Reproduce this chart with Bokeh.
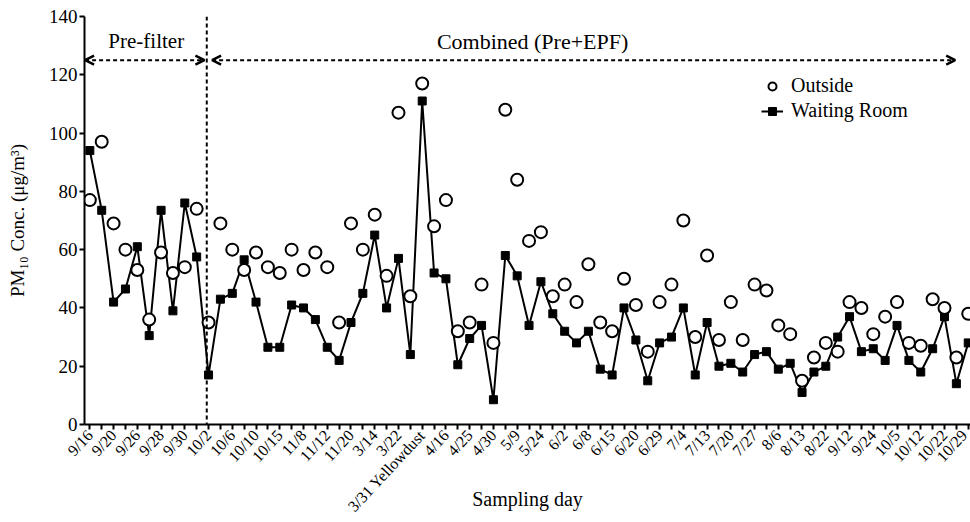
from bokeh.plotting import figure
from bokeh.models import (Range1d, FixedTicker, Span, Arrow, OpenHead, Label,
                          Legend, LegendItem, ColumnDataSource)
from bokeh.embed import file_html
from bokeh.resources import INLINE

tick_labels = ["9/16", "9/20", "9/26", "9/28", "9/30", "10/2", "10/6", "10/10", "10/15",
               "11/8", "11/12", "11/20", "3/14", "3/22", "3/31 Yellowdust", "4/16", "4/25",
               "4/30", "5/9", "5/24", "6/2", "6/8", "6/15", "6/20", "6/29", "7/4", "7/13",
               "7/20", "7/27", "8/6", "8/13", "8/22", "9/12", "9/24", "10/5", "10/12",
               "10/22", "10/29"]

waiting_room = [94, 73.5, 42, 46.5, 61, 30.5, 73.5, 39, 76, 57.5,
                17, 43, 45, 56.5, 42, 26.5, 26.5, 41, 40, 36,
                26.5, 22, 35, 45, 65, 40, 57, 24, 111, 52,
                50, 20.5, 29.5, 34, 8.5, 58, 51, 34, 49, 38,
                32, 28, 32, 19, 17, 40, 29, 15, 28, 30,
                40, 17, 35, 20, 21, 18, 24, 25, 19, 21,
                11, 18, 20, 30, 37, 25, 26, 22, 34, 22,
                18, 26, 37, 14, 28]

outside = [77, 97, 69, 60, 53, 36, 59, 52, 54, 74,
           35, 69, 60, 53, 59, 54, 52, 60, 53, 59,
           54, 35, 69, 60, 72, 51, 107, 44, 117, 68,
           77, 32, 35, 48, 28, 108, 84, 63, 66, 44,
           48, 42, 55, 35, 32, 50, 41, 25, 42, 48,
           70, 30, 58, 29, 42, 29, 48, 46, 34, 31,
           15, 23, 28, 25, 42, 40, 31, 37, 42, 28,
           27, 43, 40, 23, 38]

y_ticks = [0, 20, 40, 60, 80, 100, 120, 140]
filter_change = 9.85   # boundary between pre-filter and combined periods
arrow_level = 125

FONT = "Liberation Serif"

idx = list(range(len(waiting_room)))
src = ColumnDataSource(dict(x=idx, wr=waiting_room, out=outside))

p = figure(width=970, height=522, output_backend="svg", toolbar_location=None,
           x_range=Range1d(-0.45, 74.19), y_range=Range1d(0, 140),
           min_border_left=84, min_border_right=0, min_border_top=16,
           min_border_bottom=98)
p.outline_line_color = None
p.grid.visible = False
p.background_fill_color = "white"

# axes
p.xaxis.ticker = FixedTicker(ticks=list(range(0, len(idx), 2)),
                             minor_ticks=list(range(1, len(idx), 2)))
p.xaxis.major_label_overrides = {i * 2: lab for i, lab in enumerate(tick_labels)}
p.xaxis.major_label_orientation = 0.82
p.xaxis.major_label_text_font = FONT
p.xaxis.major_label_text_font_size = "16px"
p.xaxis.major_label_standoff = 3
p.xaxis.axis_label = "Sampling day"
p.xaxis.axis_label_text_font = FONT
p.xaxis.axis_label_text_font_size = "20px"
p.xaxis.axis_label_text_font_style = "normal"
p.xaxis.axis_label_standoff = -36
p.yaxis.ticker = FixedTicker(ticks=y_ticks, minor_ticks=[])
p.yaxis.major_label_text_font = FONT
p.yaxis.major_label_text_font_size = "19px"
p.yaxis.major_label_standoff = 2
p.yaxis.axis_label = "PM\u2081\u2080 Conc. (\u03bcg/m\u00b3)"
p.yaxis.axis_label_text_font = FONT
p.yaxis.axis_label_text_font_size = "19px"
p.yaxis.axis_label_text_font_style = "normal"
p.yaxis.axis_label_standoff = 18
for ax in (p.xaxis, p.yaxis):
    ax.axis_line_width = 2
    ax.axis_line_color = "black"
    ax.major_tick_line_width = 2
    ax.minor_tick_line_width = 2
    ax.major_tick_line_color = "black"
    ax.minor_tick_line_color = "black"
    ax.major_tick_out = 5
    ax.major_tick_in = 0
    ax.minor_tick_out = 5
    ax.minor_tick_in = 0
    ax.major_label_text_color = "black"
    ax.axis_label_text_color = "black"

# period separator and arrows
p.add_layout(Span(location=filter_change, dimension="height", line_color="black",
                  line_width=2, line_dash="4 3"))
p.add_layout(Arrow(start=OpenHead(size=9, line_width=2.5), end=OpenHead(size=9, line_width=2.5),
                   x_start=-0.4, y_start=arrow_level, x_end=9.65, y_end=arrow_level,
                   line_width=2, line_dash="4 3"))
p.add_layout(Arrow(start=OpenHead(size=9, line_width=2.5), end=OpenHead(size=9, line_width=2.5),
                   x_start=10.3, y_start=arrow_level, x_end=72.9, y_end=arrow_level,
                   line_width=2, line_dash="4 3"))
p.add_layout(Label(x=4.75, y=131.5, text="Pre-filter", text_align="center",
                   text_baseline="middle", text_font=FONT, text_font_size="21px",
                   text_color="black"))
p.add_layout(Label(x=37.3, y=131.5, text="Combined (Pre+EPF)", text_align="center",
                   text_baseline="middle", text_font=FONT, text_font_size="22px",
                   text_color="black"))

# data
ln = p.line("x", "wr", source=src, line_color="black", line_width=2)
sq = p.scatter("x", "wr", source=src, marker="square", size=8,
               fill_color="black", line_color="black")
ci = p.scatter("x", "out", source=src, marker="circle", size=12,
               fill_color="white", line_color="black", line_width=2)

legend = Legend(items=[LegendItem(label="Outside", renderers=[ci]),
                       LegendItem(label="Waiting Room", renderers=[ln, sq])],
                location=(677, 302), padding=0, margin=0, spacing=2,
                glyph_width=22, glyph_height=20, label_height=20, label_standoff=8,
                label_text_font=FONT, label_text_font_size="20px",
                label_text_color="black",
                border_line_color=None, background_fill_alpha=0)
p.add_layout(legend)

open("out.html", "w").write(file_html(p, INLINE))
